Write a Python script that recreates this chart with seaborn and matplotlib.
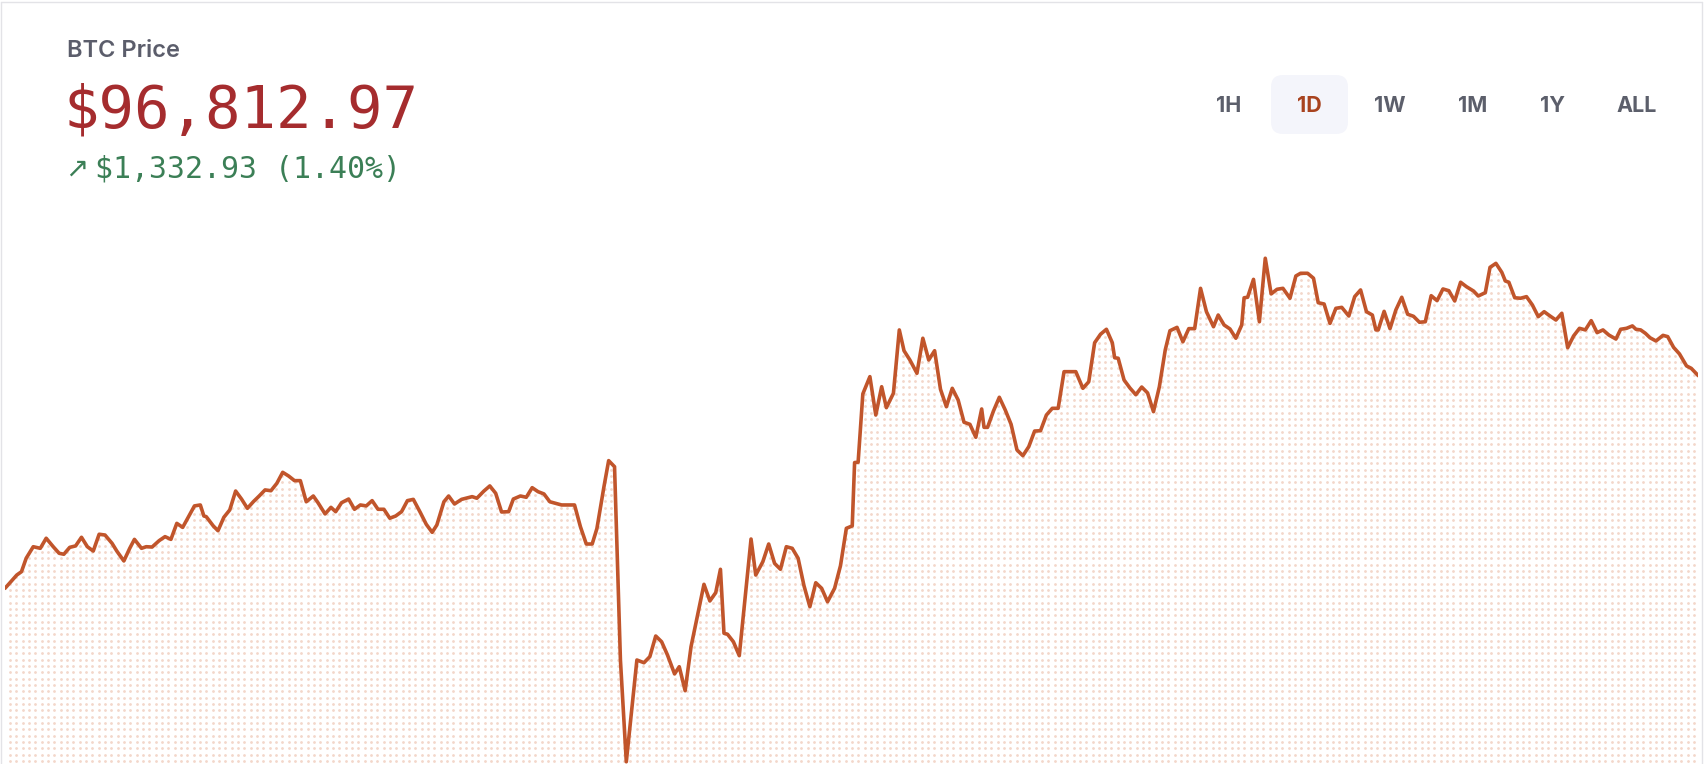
import numpy as np
import pandas as pd
import seaborn as sns
import matplotlib
matplotlib.use('Agg')
import matplotlib.pyplot as plt
from matplotlib.lines import Line2D
from matplotlib.patches import FancyBboxPatch
from matplotlib.transforms import IdentityTransform

# 1D window, minutes since start of the window
minutes = [0, 10, 14, 18, 24, 30, 35, 41, 46, 50, 55, 60, 65, 70, 75, 80, 85, 91, 95, 101,
           106, 110, 116, 120, 125, 131, 136, 141, 146, 151, 156, 161, 166, 169, 171, 177, 181, 186, 191, 196,
           201, 206, 211, 216, 221, 226, 231, 236, 241, 246, 251,
           256, 262, 266, 272, 277, 281, 286, 292, 297, 302, 307, 312, 317, 322, 327, 332, 337, 342, 347, 353,
           358, 363, 367, 373, 377, 382, 388, 397, 401, 407, 412, 417, 422, 428, 432, 438, 443, 448, 453, 458,
           463, 468, 473, 479, 484, 489, 494, 499, 503, 509, 513, 518, 523, 528,
           537, 543, 548, 553, 558, 563, 569, 573, 578, 583, 588, 594, 599, 604, 608, 611, 614, 619, 624, 634,
           638, 644, 649, 654, 659, 664, 669, 674, 679, 684, 689, 694, 699, 705, 710, 715, 720, 722, 725,
           729, 735, 740, 745, 749, 755, 760, 764, 769, 775, 780, 785, 790, 795, 800, 805, 810, 815, 820, 825,
           830, 832, 835, 840, 845, 850, 855, 860, 865, 870, 875, 880, 885, 890, 895, 900, 905, 910, 916, 921,
           926, 931, 936, 941, 943, 946, 951, 956, 961, 966, 971, 976,
           981, 986, 990, 996, 1001, 1006, 1011, 1016, 1021, 1027, 1031, 1036, 1041, 1046, 1051, 1053, 1056, 1061,
           1066, 1071, 1076, 1081, 1086, 1092, 1097, 1101, 1107, 1112, 1116, 1121, 1126, 1131, 1136, 1142, 1147,
           1152, 1157, 1162, 1165, 1167, 1172, 1177, 1182, 1187, 1192, 1197, 1202,
           1207, 1212, 1217, 1222, 1227, 1232, 1237, 1242, 1248, 1252, 1258, 1262, 1267, 1272, 1275, 1278, 1283,
           1288, 1293, 1298, 1303, 1308, 1313, 1318, 1323, 1328, 1333, 1338, 1343, 1348, 1353, 1358, 1363, 1369,
           1373, 1378, 1383, 1386, 1390, 1394, 1398, 1403, 1409, 1413, 1418, 1423, 1429, 1433, 1439]

prices = [95484, 95567, 95588, 95672, 95744, 95734, 95797, 95744, 95703, 95697, 95740, 95749, 95803, 95744,
          95717, 95822, 95817, 95765, 95717, 95655, 95734, 95790, 95734, 95744, 95742, 95782, 95807, 95790,
          95890, 95865, 95932, 95999, 96005, 95936, 95932, 95874, 95844, 95928, 95974, 96092, 96042, 95984,
          96025, 96061, 96099, 96094, 96140, 96209, 96186, 96157, 96157,
          96025, 96061, 96019, 95949, 95990, 95963, 96019, 96042, 95978, 96005, 95999, 96032, 95978, 95978,
          95922, 95936, 95963, 96032, 96040, 95957, 95884, 95834, 95880, 96025, 96061, 96011, 96040, 96057,
          96047, 96092, 96124, 96078, 95961, 95963, 96042, 96061, 96053, 96113, 96088, 96074, 96025, 96015,
          96005, 96005, 96005, 95869, 95761, 95761, 95857, 96119, 96282, 96244, 95036, 94400,
          95036, 95019, 95057, 95186, 95150, 95067, 94949, 94994, 94844, 95119, 95297, 95509, 95405, 95457,
          95603, 95203, 95197, 95150, 95063, 95792, 95567, 95650, 95761, 95640, 95603, 95744, 95734, 95672,
          95500, 95369, 95519, 95484, 95400, 95484, 95625, 95859, 95874, 96270, 96272,
          96699, 96807, 96567, 96744, 96613, 96703, 97099, 96969, 96911, 96828, 97047, 96911, 96969, 96728,
          96619, 96734, 96661, 96522, 96509, 96428, 96605, 96490, 96490, 96592, 96678, 96599, 96509, 96349,
          96313, 96369, 96467, 96469, 96567, 96609, 96609, 96838, 96838, 96838, 96734, 96775, 97019, 97072,
          97103, 97019, 96925, 96922, 96786, 96736, 96694, 96742, 96705, 96588,
          96744, 96974, 97094, 97115, 97025, 97107, 97107, 97359, 97213, 97119, 97192, 97130, 97105, 97047,
          97130, 97300, 97303, 97415, 97150, 97547, 97324, 97353, 97359, 97297, 97436, 97453, 97453, 97422,
          97269, 97261, 97140, 97234, 97240, 97186, 97307, 97349, 97213, 97192, 97099, 97099, 97215, 97107,
          97224, 97303, 97197, 97184, 97147,
          97150, 97313, 97282, 97355, 97344, 97280, 97397, 97369, 97342, 97311, 97332, 97490, 97515, 97459,
          97405, 97397, 97300, 97297, 97307, 97255, 97182, 97213, 97186, 97161, 97203, 96988, 97061, 97109,
          97099, 97157, 97082, 97099, 97067, 97042, 97103, 97109, 97124, 97103, 97099, 97078, 97050, 97030,
          97065, 97057, 96990, 96949, 96874, 96859, 96812.97]

title = 'BTC Price'
price_label = '$96,812.97'
change_label = '$1,332.93 (1.40%)'
ranges = ['1H', '1D', '1W', '1M', '1Y', 'ALL']
active_range = '1D'

line_color = '#c1552b'
dot_color = '#f3d7ca'

df = pd.DataFrame({'minutes': minutes, 'price': prices})

sns.set_theme(style='white')
plt.rcParams['font.family'] = ['Inter', 'DejaVu Sans']

W, H = 1706, 764
fig = plt.figure(figsize=(W / 100, H / 100), dpi=100)
fig.patch.set_facecolor('white')

ax = fig.add_axes([5 / W, 0, 1693.3 / W, 1])
y_floor = 94386
ax.set_xlim(0, 1439)
ax.set_ylim(y_floor, 99161)

# area under the line, drawn as a dot pattern
poly = ax.fill_between(df['minutes'], df['price'], y_floor, facecolor='none', edgecolor='none')
gx = np.arange(0.003, 1.0, 6.33 / 1693.3)
gy = np.arange(0.004, 1.0, 6.33 / H)
mx, my = np.meshgrid(gx, gy)
dots = ax.scatter(mx.ravel(), my.ravel(), s=4.0, color=dot_color, linewidths=0,
                  transform=ax.transAxes, zorder=1)
dots.set_clip_path(poly.get_paths()[0], ax.transData)

sns.lineplot(data=df, x='minutes', y='price', ax=ax, color=line_color,
             linewidth=2.6, estimator=None, sort=False, zorder=3)
ax.axis('off')

# card border
border = '#e3e3e7'
fig.add_artist(Line2D([1 / W, 1702 / W], [1 - 1.5 / H, 1 - 1.5 / H], transform=fig.transFigure, color=border, lw=1))
fig.add_artist(Line2D([1.5 / W, 1.5 / W], [0, 1 - 1.5 / H], transform=fig.transFigure, color=border, lw=1))
fig.add_artist(Line2D([1702 / W, 1702 / W], [0, 1 - 1.5 / H], transform=fig.transFigure, color=border, lw=1))

# header
fig.text(67 / W, 1 - 57 / H, title, fontsize=17, fontweight='semibold', color='#5b5d6b')
fig.text(64 / W, 1 - 128 / H, price_label, fontsize=42.5, color='#a52c2e',
         family=['DejaVu Sans Mono'])
fig.text(65 / W, 1 - 177 / H, '\u2197', fontsize=20, color='#3b7f56', family=['DejaVu Sans'])
fig.text(95 / W, 1 - 177 / H, change_label, fontsize=21.5, color='#3b7f56',
         family=['DejaVu Sans Mono'])

# time range selector
btn_x = [1229, 1309, 1390, 1473, 1553, 1637]
box = FancyBboxPatch((1271, H - 134), 77, 59, boxstyle='round,pad=0,rounding_size=12',
                     transform=IdentityTransform(), facecolor='#f4f5fb', edgecolor='none')
fig.add_artist(box)
for label, x in zip(ranges, btn_x):
    fig.text(x / W, 1 - 106 / H, label, fontsize=15.5, fontweight='bold', ha='center', va='center',
             color='#a8431f' if label == active_range else '#5c5f6b')

fig.savefig('out.png', dpi=100)
